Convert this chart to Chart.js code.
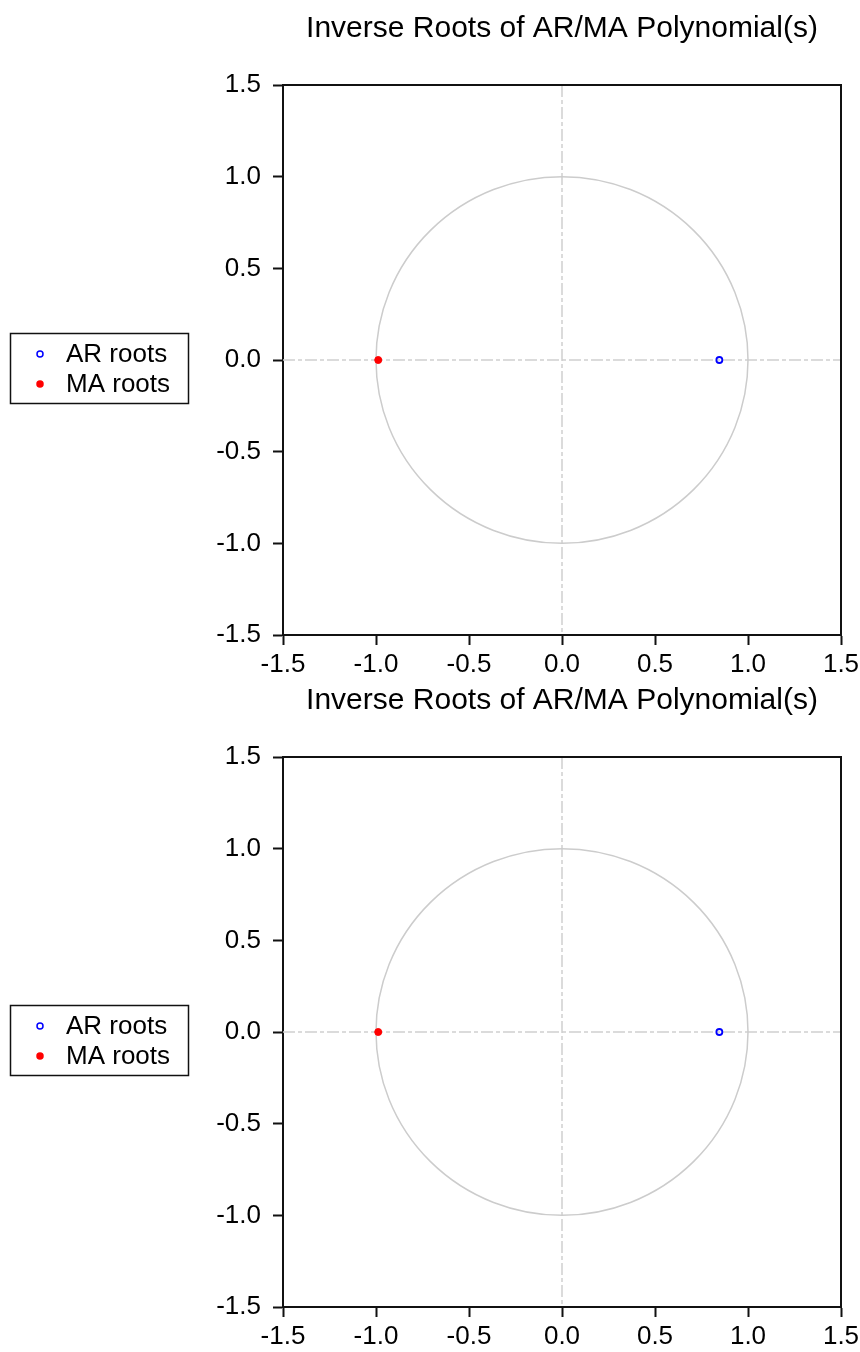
<!DOCTYPE html>
<html>
<head>
<meta charset="utf-8">
<title>Inverse Roots of AR/MA Polynomial(s)</title>
<script src="https://cdn.jsdelivr.net/npm/chart.js@4.4.0/dist/chart.umd.min.js"></script>
<style>
  html, body { margin: 0; padding: 0; background: #fff; }
  body { width: 860px; height: 1352px; position: relative; overflow: hidden; }
  canvas { position: absolute; left: 0; }
</style>
</head>
<body>
<canvas id="chartTop" width="860" height="680" style="top:0"></canvas>
<canvas id="chartBottom" width="860" height="680" style="top:672px"></canvas>
<script>
// Dati (nolasīti no attēla)
var chartTitle = 'Inverse Roots of AR/MA Polynomial(s)';
var seriesNames = ['AR roots', 'MA roots'];
var arRootsRe = [0.846];
var arRootsIm = [0.0];
var maRootsRe = [-0.988];
var maRootsIm = [0.0];
var axisTicks = [-1.5, -1.0, -0.5, 0.0, 0.5, 1.0, 1.5];
var unitRadius = 1.0;

var fontFamily = '"Liberation Sans", Arial, sans-serif';

function toPoints(re, im) {
    return re.map(function (v, i) { return { x: v, y: im[i] }; });
}

// Vienības aplis, nulles līnijas un rāmis
var framePlugin = {
    id: 'framePlugin',
    beforeDatasetsDraw: function (chart) {
        var ctx = chart.ctx;
        var xs = chart.scales.x, ys = chart.scales.y;
        var a = chart.chartArea;
        var cx = xs.getPixelForValue(0), cy = ys.getPixelForValue(0);
        ctx.save();
        // nulles līnijas
        ctx.strokeStyle = '#cfcfcf';
        ctx.lineWidth = 1.5;
        ctx.setLineDash([12, 3, 4, 3]);
        ctx.beginPath();
        ctx.moveTo(a.left, cy); ctx.lineTo(a.right, cy);
        ctx.moveTo(cx, a.top); ctx.lineTo(cx, a.bottom);
        ctx.stroke();
        // aplis
        ctx.setLineDash([]);
        ctx.strokeStyle = '#cccccc';
        ctx.beginPath();
        ctx.ellipse(cx, cy,
            Math.abs(xs.getPixelForValue(unitRadius) - cx),
            Math.abs(ys.getPixelForValue(unitRadius) - cy), 0, 0, Math.PI * 2);
        ctx.stroke();
        ctx.restore();
    },
    afterDraw: function (chart) {
        var ctx = chart.ctx;
        var a = chart.chartArea;
        ctx.save();
        // augšējā un labā mala
        ctx.strokeStyle = '#111';
        ctx.lineWidth = 2;
        ctx.beginPath();
        ctx.moveTo(a.left, a.top); ctx.lineTo(a.right, a.top); ctx.lineTo(a.right, a.bottom);
        ctx.stroke();

        // leģenda
        ctx.lineWidth = 1.5;
        ctx.strokeStyle = '#111';
        ctx.strokeRect(10.5, 333.5, 178, 70);
        ctx.font = '26px ' + fontFamily;
        ctx.fillStyle = '#000';
        ctx.textBaseline = 'middle';
        chart.data.datasets.forEach(function (ds, i) {
            var y = 354 + i * 30;
            ctx.beginPath();
            ctx.arc(40, y, 3, 0, Math.PI * 2);
            ctx.lineWidth = 1.5;
            if (ds.pointBackgroundColor !== 'transparent') {
                ctx.fillStyle = ds.pointBackgroundColor;
                ctx.fill();
            }
            ctx.strokeStyle = ds.pointBorderColor;
            ctx.stroke();
            ctx.fillStyle = '#000';
            ctx.fillText(ds.label, 66, y + 1);
        });
        ctx.restore();
    }
};

function axisOptions(isY) {
    return {
        type: 'linear',
        min: axisTicks[0],
        max: axisTicks[axisTicks.length - 1],
        afterBuildTicks: function (scale) {
            scale.ticks = axisTicks.map(function (v) { return { value: v }; });
        },
        afterFit: function (scale) {
            if (isY) {
                scale.width = 83;
                scale.paddingTop = 0; scale.paddingBottom = 0;
            } else {
                scale.height = 45;
                scale.paddingLeft = 0; scale.paddingRight = 0;
            }
        },
        ticks: {
            color: '#000',
            padding: isY ? 12 : 4,
            font: { family: fontFamily, size: 26 },
            callback: function (v) { return Number(v).toFixed(1); }
        },
        grid: {
            drawOnChartArea: false,
            drawTicks: true,
            tickLength: 10,
            tickColor: '#111',
            tickWidth: 2
        },
        border: { color: '#111', width: 2 }
    };
}

function makeChart(id) {
    var ctx = document.getElementById(id).getContext('2d');
    return new Chart(ctx, {
        type: 'scatter',
        data: {
            datasets: [{
                label: seriesNames[0],
                data: toPoints(arRootsRe, arRootsIm),
                pointRadius: 3,
                pointBorderWidth: 1.8,
                pointBorderColor: '#0000ff',
                pointBackgroundColor: 'transparent'
            }, {
                label: seriesNames[1],
                data: toPoints(maRootsRe, maRootsIm),
                pointRadius: 3.5,
                pointBorderWidth: 1,
                pointBorderColor: '#ff0000',
                pointBackgroundColor: '#ff0000'
            }]
        },
        options: {
            responsive: false,
            maintainAspectRatio: false,
            animation: false,
            devicePixelRatio: 1,
            layout: { padding: { left: 200, right: 19, top: 0, bottom: 0 } },
            scales: { x: axisOptions(false), y: axisOptions(true) },
            plugins: {
                legend: { display: false },
                tooltip: { enabled: false },
                title: {
                    display: true,
                    text: chartTitle,
                    fullSize: false,
                    color: '#000',
                    font: { family: fontFamily, size: 30, weight: 'normal', lineHeight: 1.2 },
                    padding: { top: 11, bottom: 38 }
                }
            }
        },
        plugins: [framePlugin]
    });
}

makeChart('chartTop');
makeChart('chartBottom');
</script>
</body>
</html>
